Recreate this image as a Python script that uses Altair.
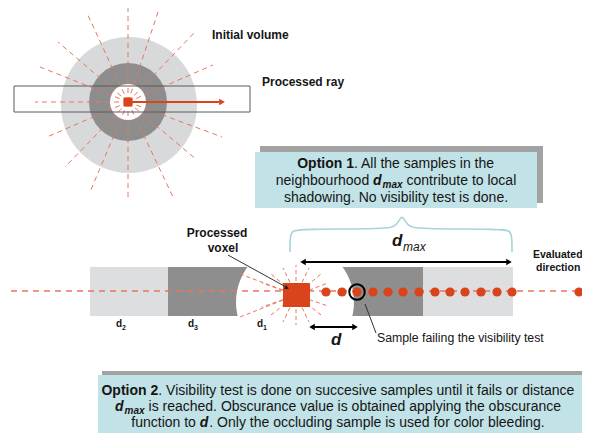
import altair as alt
import pandas as pd

FONT = "Liberation Sans"
XS = alt.Scale(domain=[8, 582], nice=False, zero=False)
YS = alt.Scale(domain=[8, 435], nice=False, zero=False, reverse=True)

RED = "#d9441a"
RAYC = "#e8765c"
INK = "#151515"

# ---------------- values (pixel units) ----------------
# top diagram: volume rings
VOL_X = [129, 128, 128]
VOL_Y = [105, 102, 102]
VOL_DIAM = [136, 78, 36]
VOL_COLOR = ["#d8d9db", "#8d8d8d", "#ffffff"]
TOP_CX, TOP_CY = 128, 102
RAY_X = [128, 158, 195, 213, 222, 197, 173, 128, 90, 65, 47, 35, 40, 58, 87]
RAY_Y = [5, 12, 32, 65, 137, 160, 197, 200, 192, 167, 137, 102, 67, 42, 13]

# strip along the evaluated direction
STRIP_X = [90, 168, 330]
STRIP_X2 = [513, 262, 423]
STRIP_Y = [267, 267, 267]
STRIP_Y2 = [316, 316, 316]
STRIP_COLOR = ["#dddee0", "#8e8e8e", "#8e8e8e"]
GAP_X, GAP_Y, GAP_DIAM = 295, 302, 118
VOX_CX, VOX_CY = 296, 295
VOX_RAY_X = [296, 309, 321, 328, 328, 321, 309, 296, 283, 271, 262, 240, 240, 262, 271, 283]
VOX_RAY_Y = [265, 268, 274, 283, 306, 315, 322, 325, 322, 315, 307, 317, 274, 283, 274, 268]
SAMPLE_X = [326, 342, 357, 373, 388, 403, 419, 435, 450, 465, 481, 497, 512, 579]
SAMPLE_Y = 292
FAIL_X = 357

# brace
BRACE_X = [290, 290, 292, 299, 388, 397, 402, 407, 416, 504, 510, 512, 512]
BRACE_Y = [252, 237, 231, 229, 229, 226, 213, 226, 229, 229, 231, 237, 252]

# boxes: shadow / fill
BOX_X = [260, 255, 102, 98]
BOX_X2 = [543, 537, 588, 583]
BOX_Y = [146, 152, 371, 375]
BOX_Y2 = [203, 208, 429, 433]
BOX_COLOR = ["#a2a2a2", "#c1e2e6", "#a2a2a2", "#c1e2e6"]

# text lines: (center x, y, [(text, style)])
OPT1 = [
    (396, 164, [("Option 1", "b"), (". All the samples in the", "r")]),
    (396, 181, [("neighbourhood ", "r"), ("d", "bi"), ("max", "sub"), (" contribute to local", "r")]),
    (396, 198, [("shadowing. No visibility test is done.", "r")]),
]
OPT2 = [
    (338, 391, [("Option 2", "b"), (". Visibility test is done on succesive samples until it fails or distance", "r")]),
    (338, 407, [("d", "bi"), ("max", "sub"), (" is reached.  Obscurance value is obtained applying the obscurance", "r")]),
    (338, 423, [("function to ", "r"), ("d", "bi"), (".  Only the occluding sample is used for color bleeding.", "r")]),
]

# ---------------- Arial / Liberation Sans advance widths ----------------
LOW = "abcdefghijklmnopqrstuvwxyz"
UP = "ABCDEFGHIJKLMNOPQRSTUVWXYZ"
REG_LOW = [556, 556, 500, 556, 556, 278, 556, 556, 222, 222, 500, 222, 833, 556, 556, 556, 556, 333, 500, 278, 556, 500, 722, 500, 500, 500]
BOLD_LOW = [556, 611, 556, 611, 556, 333, 611, 611, 278, 278, 556, 278, 889, 611, 611, 611, 611, 389, 556, 333, 611, 556, 778, 556, 556, 500]
REG_UP = [667, 667, 722, 722, 667, 611, 778, 722, 278, 500, 667, 556, 833, 722, 778, 667, 778, 722, 667, 611, 722, 667, 944, 667, 667, 611]
BOLD_UP = [722, 722, 722, 722, 667, 611, 778, 722, 278, 556, 722, 611, 833, 722, 778, 667, 778, 722, 667, 611, 722, 667, 944, 667, 667, 611]
W_REG = dict(zip(LOW + UP, REG_LOW + REG_UP))
W_BOLD = dict(zip(LOW + UP, BOLD_LOW + BOLD_UP))
for d_ in (W_REG, W_BOLD):
    d_.update({" ": 278, ".": 278, ",": 278})
    d_.update({c: 556 for c in "0123456789"})

STYLE = {
    "r": dict(size=14, bold=False, italic=False, dy=0, gap=0),
    "b": dict(size=14, bold=True, italic=False, dy=0, gap=0),
    "bi": dict(size=14, bold=True, italic=True, dy=0, gap=1),
    "sub": dict(size=10, bold=True, italic=True, dy=4, gap=0),
}


def width(text, st):
    s = STYLE[st]
    tab = W_BOLD if s["bold"] else W_REG
    return sum(tab.get(c, 556) for c in text) / 1000.0 * s["size"]


def layout(lines):
    rows = []
    for cx, y, segs in lines:
        segs2 = [(t.replace("  ", " "), st) for t, st in segs]
        total = sum(width(t, st) + STYLE[st]["gap"] for t, st in segs2)
        x = cx - total / 2.0
        for t, st in segs2:
            lead = len(t) - len(t.lstrip(" "))
            trail = len(t) - len(t.rstrip(" "))
            x += lead * width(" ", st)
            core = t.strip()
            rows.append(dict(x=x, y=y + STYLE[st]["dy"], t=core, st=st))
            x += width(core, st) + trail * width(" ", st) + STYLE[st]["gap"]
    return pd.DataFrame(rows)


def X(f="x"):
    return alt.X(f + ":Q", scale=XS, axis=None)


def Y(f="y"):
    return alt.Y(f + ":Q", scale=YS, axis=None)


def rule_layer(df, **mark):
    return alt.Chart(df).mark_rule(**mark).encode(x=X("x"), y=Y("y"), x2="x2:Q", y2="y2:Q")


def text_layer(df, **mark):
    base = dict(font=FONT, color=INK, align="left", baseline="middle")
    base.update(mark)
    return alt.Chart(df).mark_text(**base).encode(x=X(), y=Y(), text="t:N")


layers = []

# ---- strip (drawn first; everything else lies above it) ----
strip = pd.DataFrame(dict(x=STRIP_X, x2=STRIP_X2, y=STRIP_Y, y2=STRIP_Y2, c=STRIP_COLOR))
layers.append(alt.Chart(strip).mark_rect().encode(x=X(), x2="x2:Q", y=Y(), y2="y2:Q",
                                                  fill=alt.Fill("c:N", scale=None)))
gap = pd.DataFrame(dict(x=[GAP_X], y=[GAP_Y], s=[GAP_DIAM ** 2]))
layers.append(alt.Chart(gap).mark_point(shape="circle", filled=True, color="#ffffff", opacity=1)
              .encode(x=X(), y=Y(), size=alt.Size("s:Q", scale=None)))

# main dashed direction line
layers.append(rule_layer(pd.DataFrame(dict(x=[0], x2=[590], y=[291], y2=[291])),
                         color=RAYC, strokeWidth=1.5, strokeDash=[6, 5]))
# voxel rays
vr = pd.DataFrame(dict(x=[VOX_CX] * len(VOX_RAY_X), y=[VOX_CY] * len(VOX_RAY_X), x2=VOX_RAY_X, y2=VOX_RAY_Y))
layers.append(rule_layer(vr, color=RAYC, strokeWidth=1, strokeDash=[4, 3]))
# voxel square
layers.append(alt.Chart(pd.DataFrame(dict(x=[283], x2=[310], y=[283], y2=[307])))
              .mark_rect(color=RED).encode(x=X(), x2="x2:Q", y=Y(), y2="y2:Q"))
# samples
smp = pd.DataFrame(dict(x=SAMPLE_X, y=[SAMPLE_Y] * len(SAMPLE_X)))
layers.append(alt.Chart(smp).mark_circle(size=85, color=RED, opacity=1).encode(x=X(), y=Y()))
layers.append(alt.Chart(pd.DataFrame(dict(x=[FAIL_X], y=[SAMPLE_Y])))
              .mark_point(shape="circle", size=240, color="#000000", strokeWidth=2, opacity=1)
              .encode(x=X(), y=Y()))

# ---- top diagram ----
vol = pd.DataFrame(dict(x=VOL_X, y=VOL_Y, s=[d * d for d in VOL_DIAM], c=VOL_COLOR, o=[0, 1, 2]))
layers.append(alt.Chart(vol).mark_point(shape="circle", filled=True, opacity=1, strokeWidth=0)
              .encode(x=X(), y=Y(), size=alt.Size("s:Q", scale=None), fill=alt.Fill("c:N", scale=None),
                      order=alt.Order("o:Q")))
rays = pd.DataFrame(dict(x=[TOP_CX] * len(RAY_X), y=[TOP_CY] * len(RAY_X), x2=RAY_X, y2=RAY_Y))
layers.append(rule_layer(rays, color=RAYC, strokeWidth=1, strokeDash=[5, 4]))
layers.append(alt.Chart(pd.DataFrame(dict(x=[14], x2=[250], y=[86], y2=[112])))
              .mark_rect(fillOpacity=0, stroke="#5a5a5a", strokeWidth=1).encode(x=X(), x2="x2:Q", y=Y(), y2="y2:Q"))
layers.append(rule_layer(pd.DataFrame(dict(x=[TOP_CX], x2=[219], y=[TOP_CY], y2=[TOP_CY])), color=RED, strokeWidth=2))
layers.append(alt.Chart(pd.DataFrame(dict(x=[222], y=[TOP_CY])))
              .mark_point(shape="triangle-right", filled=True, size=45, color=RED, opacity=1).encode(x=X(), y=Y()))
layers.append(alt.Chart(pd.DataFrame(dict(x=[123.5], x2=[132.5], y=[97.5], y2=[106.5])))
              .mark_rect(color=RED).encode(x=X(), x2="x2:Q", y=Y(), y2="y2:Q"))
layers.append(text_layer(pd.DataFrame(dict(x=[212, 262], y=[35, 82], t=["Initial volume", "Processed ray"])),
                         fontSize=12, fontWeight="bold"))

# ---- boxes ----
boxes = pd.DataFrame(dict(x=BOX_X, x2=BOX_X2, y=BOX_Y, y2=BOX_Y2, c=BOX_COLOR, o=[0, 1, 2, 3]))
layers.append(alt.Chart(boxes).mark_rect().encode(x=X(), x2="x2:Q", y=Y(), y2="y2:Q",
                                                  fill=alt.Fill("c:N", scale=None), order=alt.Order("o:Q")))
txt = layout(OPT1 + OPT2)
for st, s in STYLE.items():
    sub = txt[txt.st == st]
    layers.append(text_layer(sub, fontSize=s["size"], fontWeight="bold" if s["bold"] else "normal",
                             fontStyle="italic" if s["italic"] else "normal"))

# ---- brace, arrows, labels ----
brace = pd.DataFrame(dict(x=BRACE_X, y=BRACE_Y, i=list(range(len(BRACE_X)))))
layers.append(alt.Chart(brace).mark_line(color="#a7d5da", strokeWidth=1.6, interpolate="basis")
              .encode(x=X(), y=Y(), order=alt.Order("i:Q")))

arr = pd.DataFrame(dict(x=[305, 314], x2=[507, 353], y=[262, 327], y2=[262, 327]))
layers.append(rule_layer(arr, color="#000000", strokeWidth=2))
layers.append(alt.Chart(pd.DataFrame(dict(x=[303, 312], y=[262, 327])))
              .mark_point(shape="triangle-left", filled=True, size=40, color="#000000", opacity=1).encode(x=X(), y=Y()))
layers.append(alt.Chart(pd.DataFrame(dict(x=[509, 355], y=[262, 327])))
              .mark_point(shape="triangle-right", filled=True, size=40, color="#000000", opacity=1).encode(x=X(), y=Y()))

# pointers
ptr = pd.DataFrame(dict(x=[228, 365], x2=[286, 376], y=[255, 304], y2=[287, 333]))
layers.append(rule_layer(ptr, color="#333333", strokeWidth=1))
layers.append(alt.Chart(pd.DataFrame(dict(x=[287], y=[288])))
              .mark_point(shape="triangle-right", filled=True, size=22, angle=29, color="#222222", opacity=1)
              .encode(x=X(), y=Y()))

layers.append(text_layer(pd.DataFrame(dict(x=[217, 223], y=[233, 248], t=["Processed", "voxel"])),
                         fontSize=12, fontWeight="bold", align="center"))
layers.append(text_layer(pd.DataFrame(dict(x=[533, 536], y=[255, 268], t=["Evaluated", "direction"])),
                         fontSize=10.5, fontWeight="bold"))
layers.append(text_layer(pd.DataFrame(dict(x=[377], y=[338], t=["Sample failing the visibility test"])),
                         fontSize=12.3))
# d_max and d labels
layers.append(text_layer(pd.DataFrame(dict(x=[392, 331], y=[241, 340], t=["d", "d"])),
                         fontSize=17, fontWeight="bold", fontStyle="italic", align="left"))
layers.append(text_layer(pd.DataFrame(dict(x=[403], y=[247], t=["max"])),
                         fontSize=12, fontStyle="italic"))
# d1..d3 labels
layers.append(text_layer(pd.DataFrame(dict(x=[116, 188, 257], y=[324, 324, 324], t=["d", "d", "d"])),
                         fontSize=10, fontWeight="bold"))
layers.append(text_layer(pd.DataFrame(dict(x=[122, 194, 263], y=[328, 328, 328], t=["2", "3", "1"])),
                         fontSize=7, fontWeight="bold"))

chart = (alt.layer(*layers)
         .properties(width=574, height=427, padding=0, autosize="none")
         .configure_view(strokeWidth=0))

chart.save("out.html", embed_options={"renderer": "svg", "actions": False})
